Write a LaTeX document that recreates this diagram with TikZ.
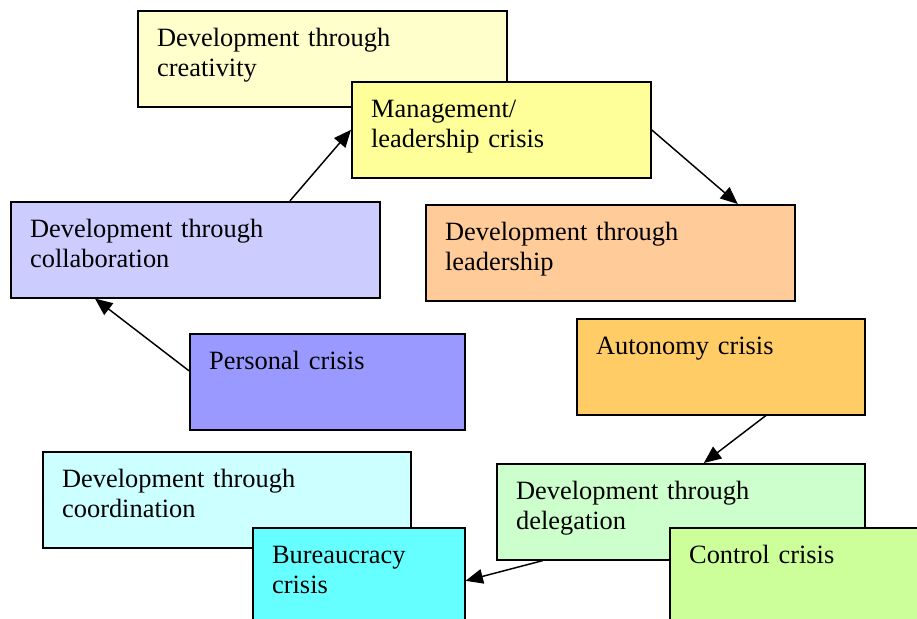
\documentclass[tikz,border=0pt]{standalone}
\usepackage{fontspec}
\setmainfont{Liberation Serif}
\usetikzlibrary{arrows.meta}
\definecolor{creatcol}{HTML}{FFFFCC}
\definecolor{mgmtcol}{HTML}{FFFF99}
\definecolor{leadcol}{HTML}{FFCC99}
\definecolor{collabcol}{HTML}{CCCCFF}
\definecolor{perscol}{HTML}{9999FF}
\definecolor{autocol}{HTML}{FFCC66}
\definecolor{coordcol}{HTML}{CCFFFF}
\definecolor{burcol}{HTML}{66FFFF}
\definecolor{delegcol}{HTML}{CCFFCC}
\definecolor{ctrlcol}{HTML}{CCFF99}
\begin{document}
\begin{tikzpicture}[
    x=0.75pt, y=-0.75pt,
    stage/.style={draw=black, line width=1.2pt, anchor=north west, align=left,
        font=\fontsize{19.8pt}{23pt}\selectfont,
        inner xsep=14.5pt, inner ysep=12.5pt, text height=14pt, text depth=33pt,
        minimum height=72pt, minimum width=#1*0.75pt, text width=#1*0.75pt-29pt},
    flow/.style={-{Triangle[length=13pt, width=11pt]}, line width=1.1pt}
]
    \clip (0,0) rectangle (917,618);

    % Top
    \node[stage=369, fill=creatcol] (creat) at (137,10) {Development through\\creativity};
    \node[stage=299, fill=mgmtcol] (mgmt) at (351,81) {Management/\\leadership crisis};
    \node[stage=369, fill=leadcol] (lead) at (425,204) {Development through\\leadership};

    % Left
    \node[stage=369, fill=collabcol] (collab) at (10,201) {Development through\\collaboration};
    \node[stage=275, fill=perscol] (pers) at (189,333) {Personal crisis};

    % Right
    \node[stage=288, fill=autocol] (auto) at (576,318) {Autonomy crisis};

    % Bottom
    \node[stage=368, fill=coordcol] (coord) at (42,451) {Development through\\coordination};
    \node[stage=212, fill=burcol] (bur) at (252,527) {Bureaucracy\\crisis};
    \node[stage=368, fill=delegcol] (deleg) at (496,463) {Development through\\delegation};
    \node[stage=260, fill=ctrlcol] (ctrl) at (669,527) {Control crisis};

    % Arrows
    \draw[flow] ([yshift=8.25pt]pers.west) -- ([xshift=63.75pt]collab.south west);
    \draw[flow] ([xshift=70.9pt]collab.north) -- (mgmt.west);
    \draw[flow] (mgmt.east) -- ([xshift=95.6pt]lead.north);
    \draw[flow] ([xshift=33.75pt]auto.south) -- ([xshift=17.25pt]deleg.north);
    \draw[flow] ([xshift=-103.5pt]deleg.south) -- ([yshift=-3.75pt]bur.east);
\end{tikzpicture}
\end{document}
